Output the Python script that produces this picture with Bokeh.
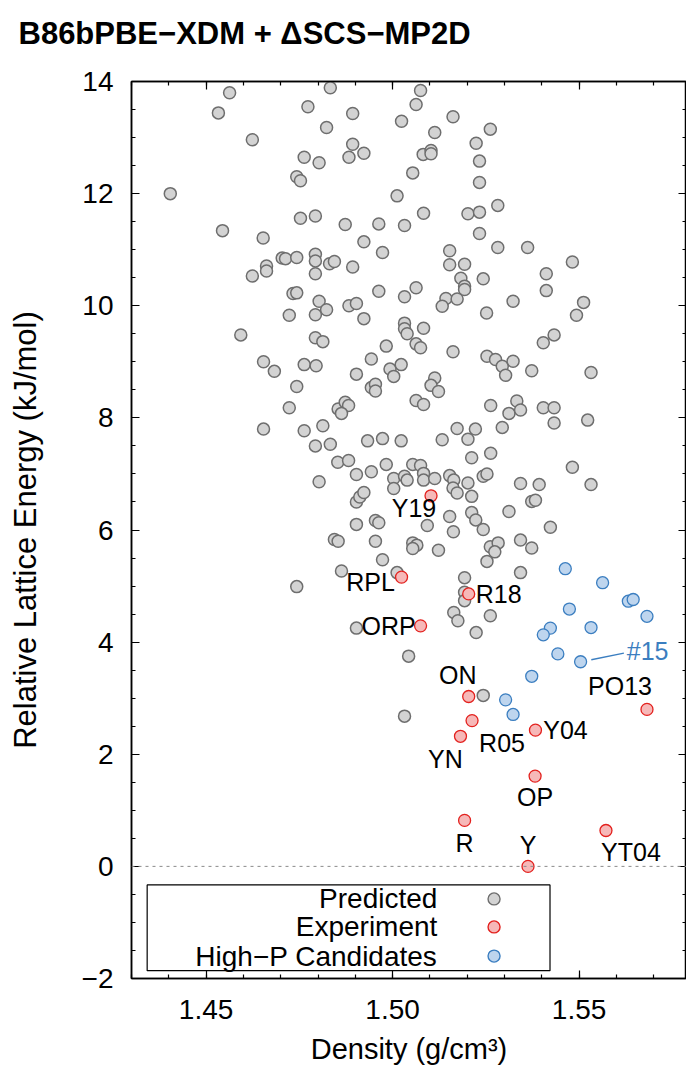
from bokeh.plotting import figure
from bokeh.models import (ColumnDataSource, FixedTicker, LinearAxis, Span, Range1d,
                          Title, BoxAnnotation)
from bokeh.core.properties import value
from bokeh.embed import file_html
from bokeh.resources import INLINE

FONT = "Liberation Sans"

# ---------------- data ----------------
pred_density = [
    1.4563, 1.4533, 1.4624, 1.4773, 1.4833, 1.4893, 1.4823, 1.4893, 1.4923, 1.4883,
    1.4763, 1.4803, 1.4743, 1.4753, 1.5024, 1.4404, 1.5012, 1.4544, 1.4753, 1.4793,
    1.4873, 1.4963, 1.5032, 1.4653, 1.4923, 1.4973, 1.4704, 1.4713, 1.4743, 1.4793,
    1.4793, 1.4831, 1.4844, 1.4893, 1.4662, 1.4662, 1.4624, 1.4793, 1.4733, 1.4743,
    1.4803, 1.4823, 1.4883, 1.4903, 1.4963, 1.5032, 1.4723, 1.4793, 1.4923,
    1.5075, 1.5063, 1.5162, 1.5113, 1.5262, 1.5224, 1.5082, 1.5103, 1.5103, 1.5233,
    1.5054, 1.5233, 1.5083, 1.5282, 1.5202, 1.5233, 1.5233, 1.5153, 1.5282, 1.5362,
    1.5153, 1.5193, 1.5482, 1.5183, 1.5193, 1.5193, 1.5243, 1.5412, 1.5412, 1.5063,
    1.5143, 1.5133, 1.5173, 1.5323, 1.5512, 1.5252, 1.5493,
    1.5032, 1.5032, 1.5039, 1.4593, 1.4793, 1.4813, 1.4983, 1.4654, 1.4683, 1.4763,
    1.4795, 1.4943, 1.5023, 1.4993, 1.5003, 1.4903, 1.4743, 1.4943, 1.4954, 1.4954,
    1.4723, 1.4854, 1.4873, 1.4882, 1.4863, 1.4654, 1.4763, 1.4813, 1.4793, 1.4833,
    1.4933, 1.4973, 1.5023, 1.4853, 1.4882, 1.4983, 1.4903, 1.4943, 1.5003, 1.5032,
    1.5039, 1.5003, 1.4803, 1.4903, 1.4912, 1.4923, 1.4903, 1.4954, 1.4963, 1.4844,
    1.4854, 1.4954,
    1.5083, 1.5063, 1.5075, 1.5162, 1.5253, 1.5276, 1.5294, 1.5303, 1.5323, 1.5373,
    1.5404, 1.5433, 1.5532, 1.5113, 1.5103, 1.5123, 1.5063, 1.5083, 1.5263, 1.5333,
    1.5312, 1.5343, 1.5404, 1.5433, 1.5433, 1.5523, 1.5173, 1.5222, 1.5202, 1.5133,
    1.5294, 1.5212, 1.5263, 1.5482, 1.5054, 1.5075, 1.5083, 1.5083, 1.5113, 1.5153,
    1.5164, 1.5162, 1.5173, 1.5202, 1.5212, 1.5243, 1.5253, 1.5343, 1.5393, 1.5532,
    1.5373, 1.5383, 1.5153, 1.5093, 1.5163, 1.5212, 1.5223, 1.5243, 1.5312, 1.5423,
    1.5054, 1.5065, 1.5054, 1.5123, 1.5262, 1.5283, 1.5343, 1.5373,
    1.4973, 1.4863, 1.5012, 1.4743, 1.4903, 1.5043, 1.5032, 1.5274, 1.5253, 1.5343,
    1.5193, 1.5193, 1.5193, 1.5164, 1.5175, 1.5262, 1.5224, 1.5243,
]
pred_energy = [
    13.80, 13.44, 12.96, 13.55, 13.89, 13.43, 13.18, 12.88, 12.72, 12.65,
    12.65, 12.55, 12.30, 12.23, 13.29, 12.00, 11.96, 11.34, 11.56, 11.60,
    11.45, 11.46, 11.43, 11.21, 11.14, 10.95, 10.85, 10.84, 10.86, 10.92,
    10.80, 10.75, 10.79, 10.69, 10.71, 10.62, 10.53, 10.57, 10.22, 10.23,
    10.08, 9.93, 10.00, 10.04, 10.26, 10.16, 9.83, 9.84, 9.77,
    13.84, 13.59, 13.37, 13.09, 13.15, 12.90, 12.70, 12.77, 12.71, 12.58,
    12.37, 12.20, 11.65, 11.79, 11.64, 11.67, 11.29, 10.98, 11.04, 11.04,
    10.73, 10.74, 10.78, 10.49, 10.35, 10.29, 10.48, 10.57, 10.27, 10.32,
    10.13, 9.99, 10.12, 10.08, 10.06, 9.87, 9.83,
    9.69, 9.59, 9.50, 9.48, 9.43, 9.36, 9.28, 9.00, 8.83, 8.95,
    8.93, 9.05, 8.95, 8.87, 8.74, 8.78, 8.56, 8.54, 8.60, 8.48,
    8.18, 8.16, 8.28, 8.22, 8.08, 7.80, 7.77, 7.86, 7.50, 7.53,
    7.59, 7.63, 7.59, 7.21, 7.24, 7.17, 6.99, 7.04, 6.92, 6.96,
    6.89, 6.74, 6.86, 6.50, 6.59, 6.67, 6.10, 6.17, 6.13, 5.83,
    5.80, 5.80,
    9.60, 9.32, 9.25, 9.18, 9.10, 9.04, 8.92, 8.76, 9.01, 8.84,
    9.34, 9.48, 8.81, 8.71, 8.58, 8.47, 8.31, 8.24, 8.22, 8.30,
    8.08, 8.14, 8.18, 8.18, 7.91, 7.96, 7.81, 7.80, 7.62, 7.61,
    7.83, 7.29, 7.37, 7.12, 7.17, 7.15, 7.01, 6.89, 6.92, 6.97,
    6.89, 6.75, 6.66, 6.84, 6.60, 6.96, 7.00, 6.83, 6.81, 6.81,
    6.51, 6.53, 6.24, 6.08, 5.97, 6.31, 6.18, 6.01, 6.33, 6.05,
    5.77, 5.73, 5.67, 5.64, 5.70, 5.77, 5.82, 5.68,
    5.47, 5.27, 5.24, 4.99, 4.25, 3.75, 2.68, 5.61, 5.44, 5.24,
    5.15, 4.89, 4.74, 4.53, 4.38, 4.47, 4.17, 3.05,
]

exp_names = ["Y19", "RPL", "R18", "ORP", "ON", "R05", "Y04", "YN", "OP", "R", "Y", "YT04", "PO13"]
exp_density = [1.5103, 1.5024, 1.5204, 1.5075, 1.5204, 1.5213, 1.5383, 1.5182, 1.5382,
               1.5193, 1.5363, 1.5572, 1.5682]
exp_energy = [6.61, 5.16, 4.86, 4.29, 3.03, 2.60, 2.43, 2.32, 1.61, 0.82, 0.00, 0.64, 2.80]

hp_density = [1.5463, 1.5563, 1.5632, 1.5645, 1.5682, 1.5474, 1.5532, 1.5423, 1.5404,
              1.5443, 1.5504, 1.5373, 1.5303, 1.5323]
hp_energy = [5.31, 5.06, 4.73, 4.76, 4.46, 4.59, 4.26, 4.25, 4.13, 3.79, 3.65, 3.39, 2.97, 2.71]
hp_highlight_name = "#15"
hp_highlight_index = 10

x_ticks = [1.45, 1.50, 1.55]
x_tick_labels = ["1.45", "1.50", "1.55"]
y_ticks = [-2, 0, 2, 4, 6, 8, 10, 12, 14]
y_tick_labels = ["\u22122", "0", "2", "4", "6", "8", "10", "12", "14"]
legend_labels = ["Predicted", "Experiment", "High\u2212P Candidates"]

title_text = "B86bPBE\u2212XDM + \u0394SCS\u2212MP2D"
x_label = "Density (g/cm\u00b3)"
y_label = "Relative Lattice Energy (kJ/mol)"

# ---------------- styles / layout ----------------
GRAY_FILL, GRAY_LINE = "#d3d3d3", "#6e6e6e"
RED_FILL, RED_LINE = "#f6b8b8", "#e3211e"
BLUE_FILL, BLUE_LINE = "#bed5ee", "#3b7ec0"
MSIZE = 12

W, H = 686, 1075
BL, BR, BT, BB = 131, 0, 81, 97
X0 = 1.43
Y0, Y1 = -2.0, 14.0
PX_PER_X = 3730.0                      # pixels per g/cm3 in the reference
X1 = X0 + (W - BL - BR) / PX_PER_X
px_x = PX_PER_X
px_y = (H - BT - BB) / (Y1 - Y0)

# label offsets in screen pixels (dx right, dy down) for experiment labels
exp_label_dx = [-17, -31, 30, -32, -11, 30, 30, -15, 0, 0, 0, 25, -27]
exp_label_dy = [12, 5, 0, 0, -22, 22, 0, 23, 21, 23, -21, 22, -23]

p = figure(width=W, height=H, x_range=Range1d(X0, X1), y_range=Range1d(Y0, Y1),
           output_backend="svg", toolbar_location=None,
           min_border_left=BL, min_border_right=BR, min_border_top=BT, min_border_bottom=BB,
           background_fill_color="white", border_fill_color="white")
p.grid.visible = False
p.outline_line_color = "black"
p.outline_line_width = 1.5
p.title.text = ""

xt = FixedTicker(ticks=x_ticks, minor_ticks=[round(1.43 + 0.01 * i, 2) for i in range(16)])
yt = FixedTicker(ticks=y_ticks, minor_ticks=[-2 + 0.5 * i for i in range(33)])


def style(ax, ticker, labels):
    ax.ticker = ticker
    ax.major_tick_in = 8
    ax.major_tick_out = 0
    ax.minor_tick_in = 4
    ax.minor_tick_out = 0
    ax.axis_line_color = "black"
    ax.axis_line_width = 1.5
    ax.major_tick_line_color = "black"
    ax.major_tick_line_width = 1.2
    ax.minor_tick_line_color = "black"
    ax.minor_tick_line_width = 1.2
    ax.major_label_text_font = FONT
    ax.major_label_text_color = "black"
    ax.major_label_overrides = labels


style(p.xaxis[0], xt, dict(zip(x_ticks, x_tick_labels)))
style(p.yaxis[0], yt, dict(zip(y_ticks, y_tick_labels)))
for ax in (p.xaxis[0], p.yaxis[0]):
    ax.major_label_text_font_size = "28px"
    ax.axis_label_text_font = FONT
    ax.axis_label_text_font_style = "normal"
    ax.axis_label_text_color = "black"
p.xaxis[0].major_label_standoff = 21
p.yaxis[0].major_label_standoff = 18
p.xaxis[0].axis_label = x_label
p.xaxis[0].axis_label_text_font_size = "29px"
p.xaxis[0].axis_label_standoff = 11
p.yaxis[0].axis_label = y_label
p.yaxis[0].axis_label_text_font_size = "31px"
p.yaxis[0].axis_label_standoff = 36

top_ax = LinearAxis()
style(top_ax, xt, {t: "" for t in x_ticks})
right_ax = LinearAxis()
style(right_ax, yt, {t: "" for t in y_ticks})
for ax in (top_ax, right_ax):
    ax.major_label_text_font_size = "0px"
    ax.major_label_standoff = 0
p.add_layout(top_ax, "above")
p.add_layout(right_ax, "right")

# spacer between the frame and the title, then the title itself
p.add_layout(Title(text="\u00a0", text_font=FONT, text_font_size="12px", standoff=15), "above")
p.add_layout(Title(text=title_text, align="left", offset=18 - BL, vertical_align="bottom",
                   text_font=FONT, text_font_size="31px", text_font_style="bold",
                   text_color="black", standoff=0), "above")

p.add_layout(Span(location=0, dimension="width", line_color="#8a8a8a",
                  line_width=1, line_dash="3 4"))

# points
p.scatter(pred_density, pred_energy, size=MSIZE, fill_color=GRAY_FILL,
          line_color=GRAY_LINE, line_width=1.5)
p.scatter(hp_density, hp_energy, size=MSIZE, fill_color=BLUE_FILL,
          line_color=BLUE_LINE, line_width=1.3)
p.scatter(exp_density, exp_energy, size=MSIZE, fill_color=RED_FILL,
          line_color=RED_LINE, line_width=1.3)

# experiment labels
lab_src = ColumnDataSource(dict(x=exp_density, y=exp_energy, t=exp_names,
                                dx=exp_label_dx, dy=exp_label_dy))
p.text(x="x", y="y", text="t", x_offset="dx", y_offset="dy", source=lab_src,
       text_align="center", text_baseline="middle", text_font=value(FONT),
       text_font_size="25px", text_color="black")

# highlighted high-P candidate with leader line
hx, hy = hp_density[hp_highlight_index], hp_energy[hp_highlight_index]
p.segment(x0=[hx + 10.7 / px_x], y0=[hy + 2.0 / px_y],
          x1=[hx + 43.3 / px_x], y1=[hy + 8.6 / px_y],
          line_color=BLUE_LINE, line_width=1.3)
p.text(x=[hx], y=[hy], text=[hp_highlight_name], x_offset=67, y_offset=-11,
       text_align="center", text_baseline="middle", text_font=value(FONT),
       text_font_size="25px", text_color=BLUE_LINE)

# legend (gnuplot style: right-aligned text, marker to the right)
LEG_L, LEG_R, LEG_T, LEG_B = 1.4342, 1.5422, -0.33, -1.86
LEG_TEXT_X, LEG_MARK_X = 1.5120, 1.5272
LEG_ROWS = [-0.58, -1.08, -1.60]
p.add_layout(BoxAnnotation(left=LEG_L, right=LEG_R, top=LEG_T, bottom=LEG_B,
                           fill_alpha=0, line_color="black", line_width=1.2,
                           line_alpha=1))
p.text(x=[LEG_TEXT_X] * 3, y=LEG_ROWS, text=legend_labels, text_align="right",
       text_baseline="middle", text_font=value(FONT), text_font_size="28px",
       text_color="black")
p.scatter(x=[LEG_MARK_X] * 3, y=LEG_ROWS, size=MSIZE,
          fill_color=[GRAY_FILL, RED_FILL, BLUE_FILL],
          line_color=[GRAY_LINE, RED_LINE, BLUE_LINE], line_width=1.4)

open("out.html", "w").write(file_html(p, INLINE))
